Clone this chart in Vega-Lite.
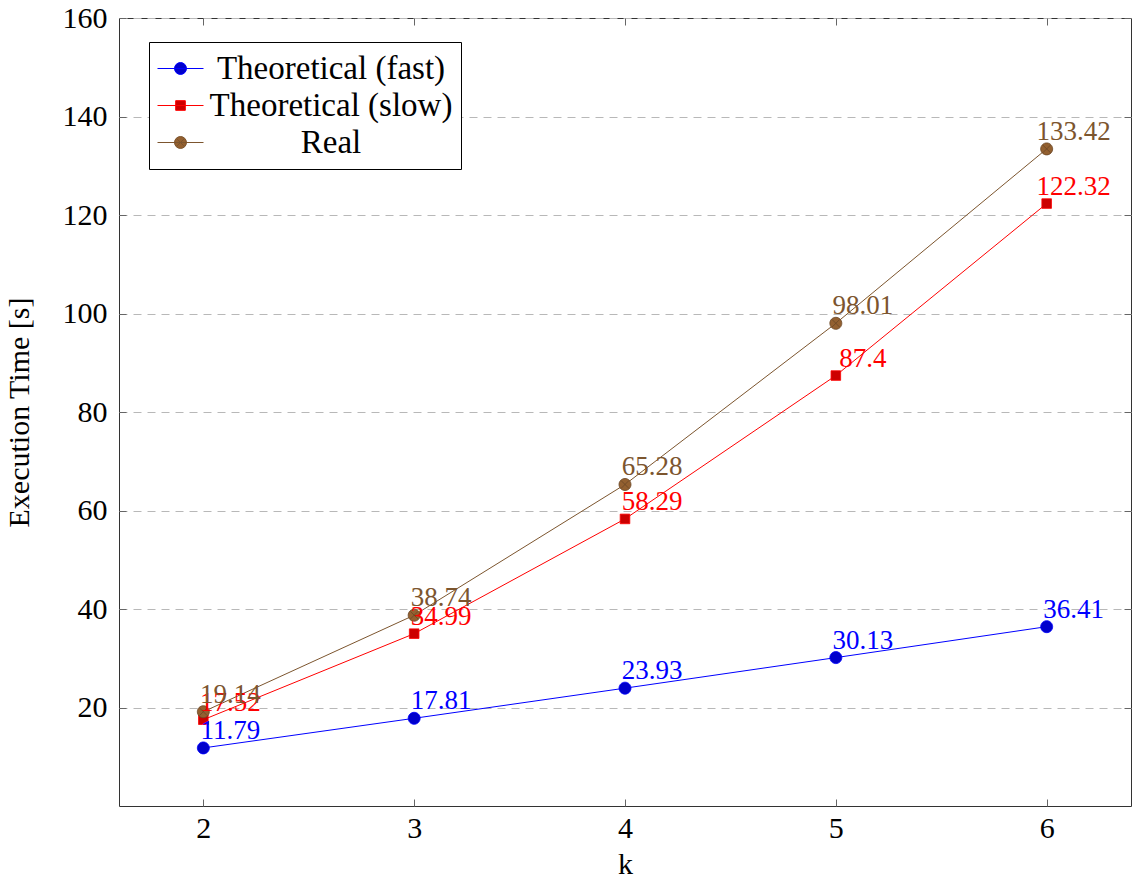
{
  "$schema": "https://vega.github.io/schema/vega-lite/v6.json",
  "width": 1012,
  "height": 788,
  "autosize": {"type": "none"},
  "padding": {"left": 119, "top": 18, "right": 2, "bottom": 75},
  "background": "white",
  "config": {
    "font": "Liberation Serif",
    "view": {"stroke": "#333333", "strokeWidth": 1},
    "axis": {
      "labelFont": "Liberation Serif",
      "titleFont": "Liberation Serif",
      "labelFontSize": 30,
      "titleFontSize": 30,
      "labelColor": "#000000",
      "titleColor": "#000000",
      "titleFontWeight": "normal",
      "domain": false,
      "tickColor": "#666666",
      "tickSize": -7,
      "tickWidth": 1
    }
  },
  "data": {
    "values": [
      {"k": 2, "series": "Theoretical (fast)", "time": 11.79, "label": "11.79"},
      {"k": 3, "series": "Theoretical (fast)", "time": 17.81, "label": "17.81"},
      {"k": 4, "series": "Theoretical (fast)", "time": 23.93, "label": "23.93"},
      {"k": 5, "series": "Theoretical (fast)", "time": 30.13, "label": "30.13"},
      {"k": 6, "series": "Theoretical (fast)", "time": 36.41, "label": "36.41"},
      {"k": 2, "series": "Theoretical (slow)", "time": 17.52, "label": "17.52"},
      {"k": 3, "series": "Theoretical (slow)", "time": 34.99, "label": "34.99"},
      {"k": 4, "series": "Theoretical (slow)", "time": 58.29, "label": "58.29"},
      {"k": 5, "series": "Theoretical (slow)", "time": 87.4, "label": "87.4"},
      {"k": 6, "series": "Theoretical (slow)", "time": 122.32, "label": "122.32"},
      {"k": 2, "series": "Real", "time": 19.14, "label": "19.14"},
      {"k": 3, "series": "Real", "time": 38.74, "label": "38.74"},
      {"k": 4, "series": "Real", "time": 65.28, "label": "65.28"},
      {"k": 5, "series": "Real", "time": 98.01, "label": "98.01"},
      {"k": 6, "series": "Real", "time": 133.42, "label": "133.42"}
    ]
  },
  "resolve": {"axis": {"x": "independent", "y": "independent"}},
  "layer": [
    {
      "mark": {"type": "line", "strokeWidth": 1},
      "encoding": {
        "x": {
          "field": "k", "type": "quantitative",
          "scale": {"domain": [1.6, 6.4], "nice": false, "zero": false},
          "axis": {"orient": "bottom", "values": [2, 3, 4, 5, 6], "format": "d", "title": "k", "grid": false, "labelPadding": 14, "titlePadding": 6}
        },
        "y": {
          "field": "time", "type": "quantitative",
          "scale": {"domain": [0, 160], "nice": false, "zero": true},
          "axis": {"orient": "left", "values": [20, 40, 60, 80, 100, 120, 140, 160], "format": "d", "title": "Execution Time [s]", "grid": true, "gridColor": "#b8b8b8", "gridDash": [8, 6], "gridWidth": 1, "labelPadding": 19, "titlePadding": 28}
        },
        "color": {
          "field": "series", "type": "nominal",
          "scale": {"domain": ["Theoretical (fast)", "Theoretical (slow)", "Real"], "range": ["#0000ff", "#ff0000", "#7c552e"]},
          "legend": {
            "title": null,
            "orient": "none",
            "legendX": 30,
            "legendY": 24,
            "strokeColor": "#000000",
            "fillColor": "#ffffff",
            "padding": 8,
            "cornerRadius": 0,
            "clipHeight": 37,
            "rowPadding": 0,
            "symbolSize": 2116,
            "labelFont": "Liberation Serif",
            "labelFontSize": 33,
            "labelColor": "#000000",
            "labelAlign": "center",
            "labelOffset": 127,
            "labelLimit": 400,
            "labelExpr": "'   ' + datum.label + '   '",
            "encode": {
              "symbols": {
                "update": {
                  "shape": {"signal": "datum.value === 'Theoretical (slow)' ? 'M-1,0H1M-0.21,-0.21H0.21V0.21H-0.21Z' : datum.value === 'Real' ? 'M-1,0H1M-0.26,0A0.26,0.26,0,1,1,0.26,0A0.26,0.26,0,1,1,-0.26,0ZM-0.17,-0.17L0.17,0.17M-0.17,0.17L0.17,-0.17' : 'M-1,0H1M-0.26,0A0.26,0.26,0,1,1,0.26,0A0.26,0.26,0,1,1,-0.26,0Z'"},
                  "fill": {"signal": "datum.value === 'Theoretical (slow)' ? '#cc0000' : datum.value === 'Real' ? '#936030' : '#0000cc'"},
                  "stroke": {"signal": "datum.value === 'Theoretical (slow)' ? '#ff0000' : datum.value === 'Real' ? '#7c552e' : '#0000ff'"},
                  "strokeWidth": {"value": 1},
                  "size": {"value": 2116},
                  "opacity": {"value": 1}
                }
              }
            }
          }
        }
      }
    },
    {
      "mark": {"type": "point", "filled": true, "size": 144, "strokeWidth": 0.8, "opacity": 1},
      "encoding": {
        "x": {"field": "k", "type": "quantitative", "axis": null},
        "y": {"field": "time", "type": "quantitative", "axis": null},
        "shape": {
          "condition": [
            {"test": "datum.series === 'Theoretical (fast)'", "value": "M-1,0A1,1,0,1,1,1,0A1,1,0,1,1,-1,0Z"},
            {"test": "datum.series === 'Theoretical (slow)'", "value": "M-0.8,-0.8H0.8V0.8H-0.8Z"}
          ],
          "value": "M-1,0A1,1,0,1,1,1,0A1,1,0,1,1,-1,0ZM-0.65,-0.65L0.65,0.65M-0.65,0.65L0.65,-0.65"
        },
        "fill": {
          "condition": [
            {"test": "datum.series === 'Theoretical (fast)'", "value": "#0000cc"},
            {"test": "datum.series === 'Theoretical (slow)'", "value": "#cc0000"}
          ],
          "value": "#936030"
        },
        "stroke": {
          "condition": [
            {"test": "datum.series === 'Theoretical (fast)'", "value": "#0000ff"},
            {"test": "datum.series === 'Theoretical (slow)'", "value": "#ff0000"}
          ],
          "value": "#6a4626"
        }
      }
    },
    {
      "mark": {"type": "text", "align": "center", "baseline": "alphabetic", "dx": 27, "dy": -9, "fontSize": 27, "font": "Liberation Serif"},
      "encoding": {
        "x": {"field": "k", "type": "quantitative", "axis": null},
        "y": {"field": "time", "type": "quantitative", "axis": null},
        "text": {"field": "label", "type": "nominal"},
        "color": {
          "condition": [
            {"test": "datum.series === 'Theoretical (fast)'", "value": "#0000ff"},
            {"test": "datum.series === 'Theoretical (slow)'", "value": "#ff0000"}
          ],
          "value": "#7c552e"
        }
      }
    },
    {
      "mark": {"type": "point", "opacity": 0},
      "encoding": {
        "x": {"field": "k", "type": "quantitative", "axis": {"orient": "top", "values": [2, 3, 4, 5, 6], "labels": false, "title": null, "grid": false}},
        "y": {"field": "time", "type": "quantitative", "axis": {"orient": "right", "values": [20, 40, 60, 80, 100, 120, 140, 160], "labels": false, "title": null, "grid": false}}
      }
    }
  ]
}
